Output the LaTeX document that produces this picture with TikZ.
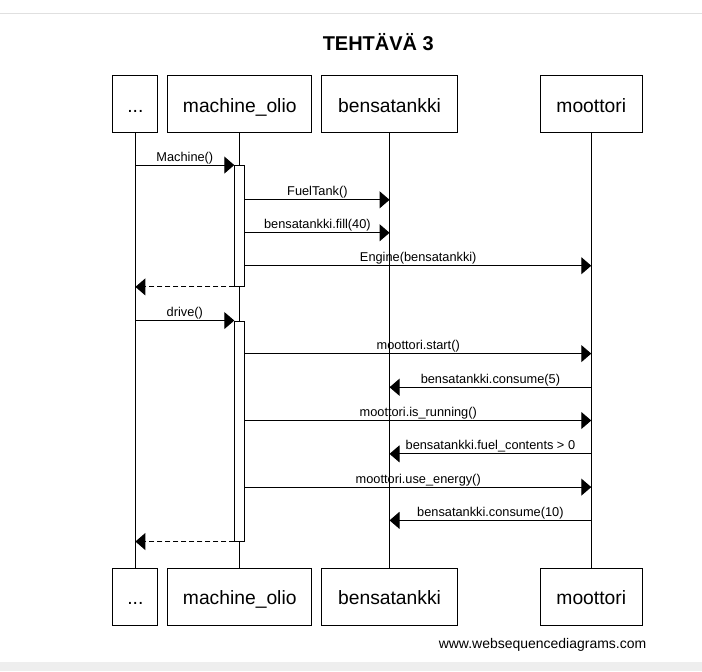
\documentclass[tikz,border=0pt]{standalone}
\usepackage{fontspec}
\setmainfont{Liberation Sans}
\usetikzlibrary{arrows.meta,calc}
\definecolor{topline}{HTML}{E0E0E0}
\definecolor{band}{HTML}{EEEEEE}
\begin{document}
\begin{tikzpicture}[x=1pt,y=-1pt,
  actor/.style={draw, line width=1pt, fill=white, inner sep=0pt, minimum height=57pt,
    font=\fontsize{19.3}{22}\selectfont, text height=19pt, text depth=3.2pt},
  lifeline/.style={line width=1pt},
  act/.style={draw, line width=1pt, fill=white, minimum width=10pt, inner sep=0pt},
  msg/.style={line width=1pt, -{Triangle[length=10pt,width=17pt]}},
  ret/.style={msg, dash pattern=on 5pt off 3pt},
  lbl/.style={font=\fontsize{12.8}{15}\selectfont, anchor=base, yshift=4pt, inner sep=0pt}]
% background
\fill[white] (0,0) rectangle (702,672);
\fill[band] (0,663) rectangle (702,672);
\draw[topline, line width=1pt] (0,13.5) -- (702,13.5);
\begin{scope}[yshift=-0.8pt, xshift=0.3pt]
% title
\node[font=\fontsize{20}{24}\selectfont\bfseries, anchor=base] (title) at (378,50) {TEHTÄVÄ 3};
% actors top
\node[actor, minimum width=45pt] (dotsT) at (134.8,103.8) {...};
\node[actor, minimum width=144pt] (machT) at (239.3,103.8) {machine\_olio};
\node[actor, minimum width=136pt] (bensT) at (389.3,103.8) {bensatankki};
\node[actor, minimum width=102pt] (mootT) at (591.3,103.8) {moottori};
% actors bottom
\node[actor, minimum width=45pt] (dotsB) at (134.8,596.8) {...};
\node[actor, minimum width=144pt] (machB) at (239.3,596.8) {machine\_olio};
\node[actor, minimum width=136pt] (bensB) at (389.3,596.8) {bensatankki};
\node[actor, minimum width=102pt] (mootB) at (591.3,596.8) {moottori};
% lifelines
\draw[lifeline] (dotsT.south) -- (dotsB.north);
\draw[lifeline] (machT.south) -- (machB.north);
\draw[lifeline] (bensT.south) -- (bensB.north);
\draw[lifeline] (mootT.south) -- (mootB.north);
% activations
\node[act, minimum height=121pt] (act1) at (239.3,225.5) {};
\node[act, minimum height=220.3pt] (act2) at (239.3,430.85) {};
% messages
\draw[msg] (dotsT.south |- act1.north west) -- (act1.north west) node[lbl, midway] {Machine()};
\draw[msg] (act1.east |- 0,199.3) -- (bensT.south |- 0,199.3) node[lbl, midway] {FuelTank()};
\draw[msg] (act1.east |- 0,232.3) -- (bensT.south |- 0,232.3) node[lbl, midway] {bensatankki.fill(40)};
\draw[msg] (act1.east |- 0,265.3) -- (mootT.south |- 0,265.3) node[lbl, midway] {Engine(bensatankki)};
\draw[ret] (act1.south west) -- (dotsT.south |- act1.south west);
\draw[msg] (dotsT.south |- act2.north west) -- (act2.north west) node[lbl, midway] {drive()};
\draw[msg] (act2.east |- 0,353.3) -- (mootT.south |- 0,353.3) node[lbl, midway] {moottori.start()};
\draw[msg] (mootT.south |- 0,387) -- (bensT.south |- 0,387) node[lbl, midway] {bensatankki.consume(5)};
\draw[msg] (act2.east |- 0,420.3) -- (mootT.south |- 0,420.3) node[lbl, midway] {moottori.is\_running()};
\draw[msg] (mootT.south |- 0,453.7) -- (bensT.south |- 0,453.7) node[lbl, midway] {bensatankki.fuel\_contents > 0};
\draw[msg] (act2.east |- 0,487) -- (mootT.south |- 0,487) node[lbl, midway] {moottori.use\_energy()};
\draw[msg] (mootT.south |- 0,520.3) -- (bensT.south |- 0,520.3) node[lbl, midway] {bensatankki.consume(10)};
\draw[ret] (act2.south west) -- (dotsT.south |- act2.south west);
% footer
\node[font=\fontsize{14}{17}\selectfont, anchor=base] (footer) at (542.5,648.5) {www.websequencediagrams.com};
\end{scope}
\end{tikzpicture}
\end{document}
